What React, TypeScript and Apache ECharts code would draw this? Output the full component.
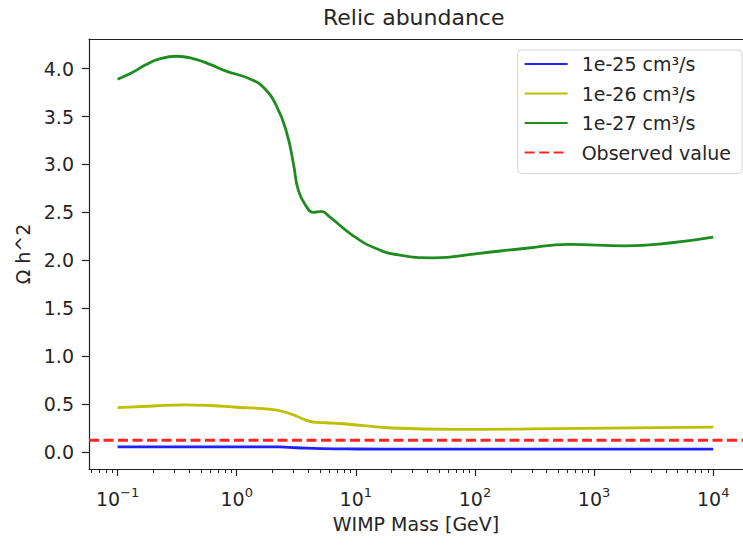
import React, { useEffect, useRef } from 'react';
import * as echarts from 'echarts';

const FONT = '"DejaVu Sans", "Liberation Sans", sans-serif';
const TEXT = '#262626';
const AXIS = '#222222';

// Data (WIMP mass in GeV, relic abundance Ω h^2)
const blueMass = [0.1, 0.5, 1.0, 2.29, 3.16, 5.13, 10, 31.6, 1000, 10000];
const blueOmega = [0.052, 0.052, 0.052, 0.05, 0.042, 0.032, 0.029, 0.028, 0.027, 0.027];

const yellowMass = [0.1, 0.2, 0.363, 0.6, 1.0, 1.95, 2.48, 3.16, 4.04, 5.0, 5.58, 8.32, 20.2, 67.6, 759, 10000];
const yellowOmega = [0.46, 0.478, 0.49, 0.483, 0.465, 0.443, 0.418, 0.373, 0.32, 0.305, 0.303, 0.29, 0.248, 0.234, 0.244, 0.258];

const greenMass = [0.1, 0.133, 0.172, 0.221, 0.313, 0.445, 0.611, 0.794, 1.31, 1.69, 2.17, 2.63, 2.99, 3.29, 3.85, 4.38, 5.13, 6.0, 9.38, 14.6, 22.8, 45, 105, 269, 617, 1820, 4680, 10000];
const greenOmega = [3.89, 3.96, 4.04, 4.10, 4.13, 4.10, 4.04, 3.98, 3.89, 3.80, 3.605, 3.33, 3.01, 2.73, 2.56, 2.50, 2.51, 2.455, 2.26, 2.125, 2.055, 2.025, 2.07, 2.125, 2.165, 2.15, 2.185, 2.24];

const observedValue = 0.12;

const seriesNames = ['1e-25 cm³/s', '1e-26 cm³/s', '1e-27 cm³/s', 'Observed value'];
const seriesColors = ['#1f1fff', '#bfbf00', '#1f8c1f', '#ff2424'];

// Axes (x axis is log10 of mass)
const X_MIN = -1.24;
const X_MAX = 4.25;
const Y_MIN = -0.18;
const Y_MAX = 4.31;
const xMajorExp = [-1, 0, 1, 2, 3, 4];
const xMinorK = [2, 3, 4, 5, 6, 7, 8, 9];
const yTicks = [0, 0.5, 1.0, 1.5, 2.0, 2.5, 3.0, 3.5, 4.0];
const supLabels: Record<string, string> = { '-1': '−1', '0': '0', '1': '1', '2': '2', '3': '3', '4': '4' };

const xMinorExp: number[] = [];
for (let n = -2; n <= 4; n++) {
  for (const k of xMinorK) {
    const v = n + Math.log10(k);
    if (v > X_MIN && v < X_MAX) xMinorExp.push(v);
  }
}

const toPoints = (mass: number[], omega: number[]) => mass.map((m, i) => [Math.log10(m), omega[i]]);

export default function App() {
  const ref = useRef<HTMLDivElement>(null);
  useEffect(() => {
    const chart = echarts.init(ref.current!, null, { renderer: 'svg' });
    const lineSeries = (name: string, color: string, data: number[][], extra: any = {}) => ({
      name,
      type: 'line',
      data,
      symbol: 'none',
      smooth: 0.5,
      color,
      lineStyle: { color, width: 2.8, ...(extra.lineStyle || {}) },
      z: extra.z || 2,
    });
    chart.setOption({
      animation: false,
      backgroundColor: '#ffffff',
      title: {
        text: 'Relic abundance',
        left: 323,
        top: 6,
        padding: 0,
        textStyle: { fontSize: 22, fontWeight: 'normal', fontFamily: FONT, color: TEXT },
      },
      grid: { left: 89, right: -10, top: 39, bottom: 77, containLabel: false },
      legend: {
        right: 1,
        top: 50,
        orient: 'vertical',
        align: 'left',
        itemWidth: 43,
        itemHeight: 19,
        itemGap: 10.5,
        padding: [4.5, 11, 11.5, 6],
        borderColor: '#d4d4d4',
        borderWidth: 1,
        borderRadius: 4,
        backgroundColor: 'rgba(255,255,255,0.8)',
        itemStyle: { opacity: 0, color: 'transparent', borderWidth: 0 },
        textStyle: { fontSize: 19, fontFamily: FONT, color: TEXT, padding: [0, 0, 0, 9] },
        data: seriesNames,
      },
      xAxis: [
        {
          type: 'value',
          min: X_MIN,
          max: X_MAX,
          position: 'bottom',
          axisLine: { show: true, onZero: false, lineStyle: { color: AXIS, width: 1.2 } },
          axisTick: { show: true, length: 7, customValues: xMajorExp, lineStyle: { color: AXIS, width: 1.2 } },
          axisLabel: {
            customValues: xMajorExp,
            margin: 17,
            formatter: (v: number) => `{b|10}{s|${supLabels[String(Math.round(v))]}}`,
            rich: {
              b: { fontSize: 19, fontFamily: FONT, color: TEXT },
              s: { fontSize: 13, fontFamily: FONT, color: TEXT, padding: [0, 0, 12, 0] },
            },
          },
          splitLine: { show: false },
          name: 'WIMP Mass [GeV]',
          nameLocation: 'middle',
          nameGap: 45,
          nameTextStyle: { fontSize: 19, fontFamily: FONT, color: TEXT, verticalAlign: 'top' },
        },
        {
          type: 'value',
          min: X_MIN,
          max: X_MAX,
          position: 'bottom',
          axisLine: { show: false, onZero: false },
          axisTick: { show: true, length: 4, customValues: xMinorExp, lineStyle: { color: AXIS, width: 1 } },
          axisLabel: { show: false },
          splitLine: { show: false },
        },
        {
          type: 'value',
          min: X_MIN,
          max: X_MAX,
          position: 'top',
          axisLine: { show: true, onZero: false, lineStyle: { color: AXIS, width: 1.2 } },
          axisTick: { show: false },
          axisLabel: { show: false },
          splitLine: { show: false },
        },
      ],
      yAxis: {
        type: 'value',
        min: Y_MIN,
        max: Y_MAX,
        axisLine: { show: true, onZero: false, lineStyle: { color: AXIS, width: 1.2 } },
        axisTick: { show: true, length: 7, customValues: yTicks, lineStyle: { color: AXIS, width: 1.2 } },
        axisLabel: {
          customValues: yTicks,
          margin: 15,
          formatter: (v: number) => v.toFixed(1),
          fontSize: 19,
          fontFamily: FONT,
          color: TEXT,
        },
        splitLine: { show: false },
        name: 'Ω h^2',
        nameLocation: 'middle',
        nameGap: 57,
        nameRotate: 90,
        nameTextStyle: { fontSize: 19, fontFamily: FONT, color: TEXT },
      },
      series: [
        lineSeries(seriesNames[0], seriesColors[0], toPoints(blueMass, blueOmega)),
        lineSeries(seriesNames[1], seriesColors[1], toPoints(yellowMass, yellowOmega)),
        lineSeries(seriesNames[2], seriesColors[2], toPoints(greenMass, greenOmega)),
        {
          ...lineSeries(seriesNames[3], seriesColors[3], [[X_MIN, observedValue], [X_MAX, observedValue]], {
            lineStyle: { type: [10, 4.5] },
            z: 3,
          }),
          smooth: false,
        },
      ],
    });
    return () => chart.dispose();
  }, []);
  return <div ref={ref} style={{ position: 'absolute', left: 0, top: 0, width: 743, height: 546 }} />;
}
